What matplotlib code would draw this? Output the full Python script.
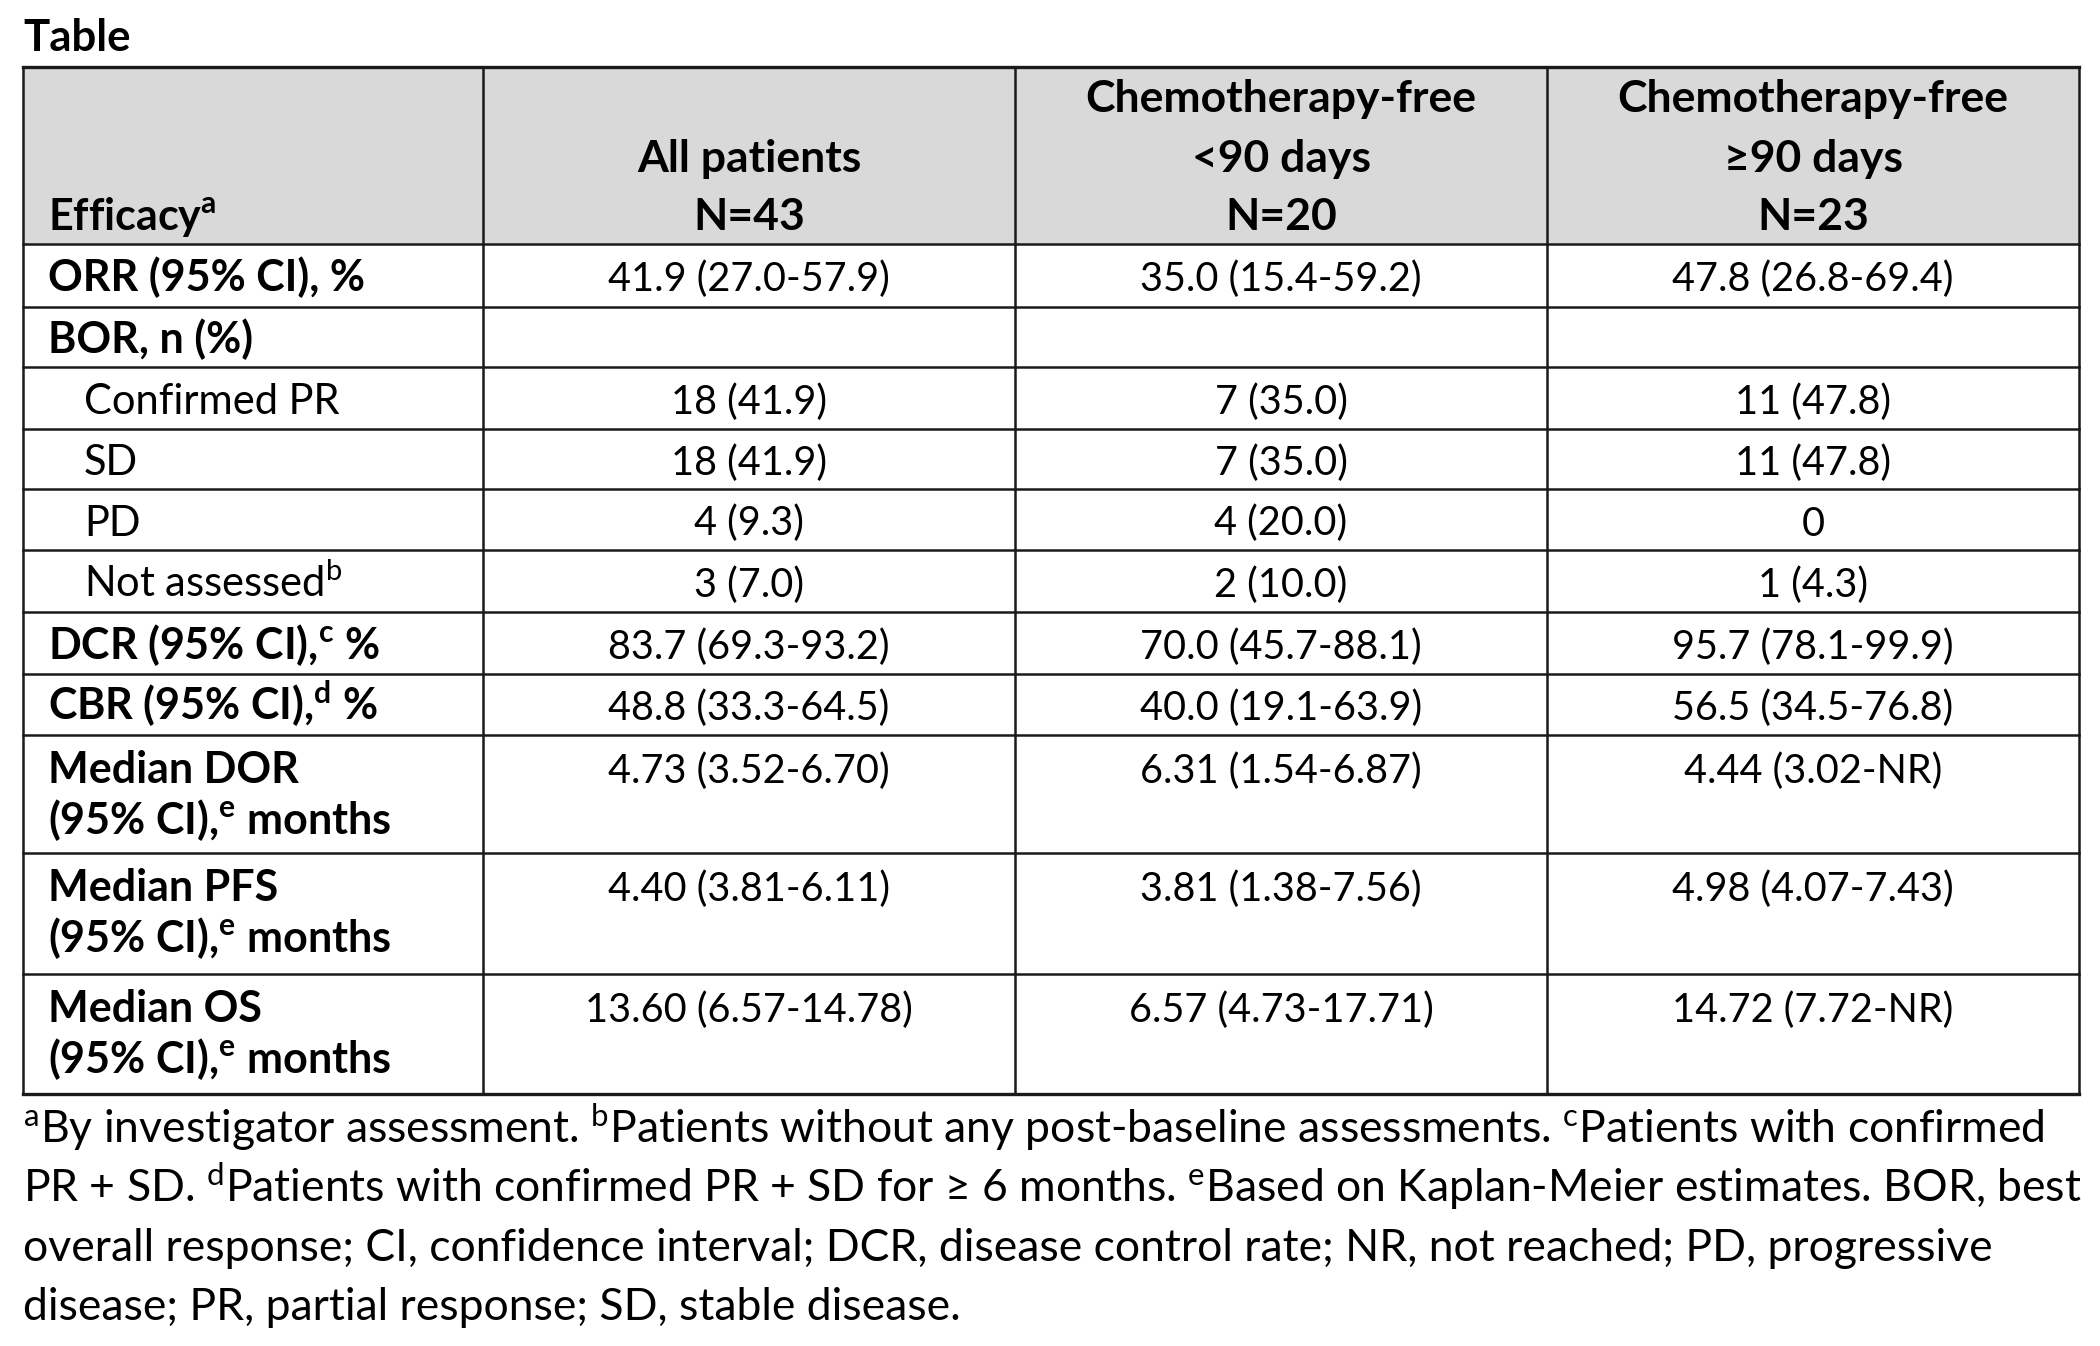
import matplotlib
matplotlib.use("Agg")
import matplotlib.pyplot as plt

plt.rcParams["font.family"] = ["Lato", "DejaVu Sans"]
plt.rcParams["mathtext.fontset"] = "custom"
plt.rcParams["mathtext.rm"] = "Lato"
plt.rcParams["mathtext.bf"] = "Lato:bold"
plt.rcParams["mathtext.default"] = "regular"

# table content
col_headers = [
    ["Efficacy$^{\\mathbf{a}}$"],
    ["All patients", "N=43"],
    ["Chemotherapy-free", "<90 days", "N=20"],
    ["Chemotherapy-free", "\u226590 days", "N=23"],
]
row_labels = [
    ["ORR (95% CI), %"],
    ["BOR, n (%)"],
    ["Confirmed PR"],
    ["SD"],
    ["PD"],
    ["Not assessed$^{\\mathrm{b}}$"],
    ["DCR (95% CI),$^{\\mathbf{c}}$ %"],
    ["CBR (95% CI),$^{\\mathbf{d}}$ %"],
    ["Median DOR", "(95% CI),$^{\\mathbf{e}}$ months"],
    ["Median PFS", "(95% CI),$^{\\mathbf{e}}$ months"],
    ["Median OS", "(95% CI),$^{\\mathbf{e}}$ months"],
]
label_bold = [True, True, False, False, False, False, True, True, True, True, True]
label_indent = [False, False, True, True, True, True, False, False, False, False, False]

all_patients = ["41.9 (27.0-57.9)", "", "18 (41.9)", "18 (41.9)", "4 (9.3)", "3 (7.0)",
                "83.7 (69.3-93.2)", "48.8 (33.3-64.5)", "4.73 (3.52-6.70)",
                "4.40 (3.81-6.11)", "13.60 (6.57-14.78)"]
chemo_free_lt90 = ["35.0 (15.4-59.2)", "", "7 (35.0)", "7 (35.0)", "4 (20.0)", "2 (10.0)",
                   "70.0 (45.7-88.1)", "40.0 (19.1-63.9)", "6.31 (1.54-6.87)",
                   "3.81 (1.38-7.56)", "6.57 (4.73-17.71)"]
chemo_free_ge90 = ["47.8 (26.8-69.4)", "", "11 (47.8)", "11 (47.8)", "0", "1 (4.3)",
                   "95.7 (78.1-99.9)", "56.5 (34.5-76.8)", "4.44 (3.02-NR)",
                   "4.98 (4.07-7.43)", "14.72 (7.72-NR)"]

footnote_lines = [
    "${}^{a}$By investigator assessment. ${}^{b}$Patients without any post-baseline assessments. ${}^{c}$Patients with confirmed",
    "PR + SD. ${}^{d}$Patients with confirmed PR + SD for \u2265 6 months. ${}^{e}$Based on Kaplan-Meier estimates. BOR, best",
    "overall response; CI, confidence interval; DCR, disease control rate; NR, not reached; PD, progressive",
    "disease; PR, partial response; SD, stable disease.",
]

# layout in pixels
W, H = 2100, 1346
col_x = [23, 483, 1015, 1547, 2079]
row_y = [67, 244, 307, 367, 429, 489, 550, 612, 674, 735, 853, 974, 1094]
fs_head = 32
fs_bold = 31
fs_val = 28.5
fs_label = 30
fs_note = 32
line_gap = 51

fig = plt.figure(figsize=(W / 100, H / 100), dpi=100)
ax = fig.add_axes([0, 0, 1, 1])
ax.set_xlim(0, W)
ax.set_ylim(H, 0)
ax.axis("off")

ax.text(col_x[0], 51, "Table", fontsize=31.5, fontweight="bold", va="baseline", ha="left")

# header fill
ax.fill_between([col_x[0], col_x[-1]], row_y[0], row_y[1], color="#d9d9d9", lw=0, zorder=0)

# header text, bottom aligned
header_base = [112, 172, 230]
for i, lines in enumerate(col_headers):
    offs = 3 - len(lines)
    for j, t in enumerate(lines):
        if i == 0:
            ax.text(48, header_base[j + offs], t, fontsize=fs_bold, fontweight="bold",
                    ha="left", va="baseline")
        else:
            ax.text((col_x[i] + col_x[i + 1]) / 2, header_base[j + offs], t, fontsize=fs_head,
                    fontweight="bold", ha="center", va="baseline")

# body
values = [all_patients, chemo_free_lt90, chemo_free_ge90]
for r, lines in enumerate(row_labels):
    top = row_y[r + 1]
    base = top + 48 if row_y[r + 2] - top > 70 else (top + row_y[r + 2]) / 2 + 16
    x0 = 84 if label_indent[r] else 48
    for j, t in enumerate(lines):
        ax.text(x0, base + j * line_gap, t,
                fontsize=fs_bold if label_bold[r] else fs_label,
                fontweight="bold" if label_bold[r] else "normal", ha="left", va="baseline")
    for c, vals in enumerate(values):
        if vals[r]:
            ax.text((col_x[c + 1] + col_x[c + 2]) / 2, base, vals[r], fontsize=fs_val,
                    ha="center", va="baseline")

# grid lines
for i, y in enumerate(row_y):
    lw = 2.4 if i in (0, len(row_y) - 1) else 1.8
    ax.plot([col_x[0], col_x[-1]], [y, y], color="#1a1a1a", lw=lw, solid_capstyle="projecting")
for x in col_x:
    ax.plot([x, x], [row_y[0], row_y[-1]], color="#1a1a1a", lw=1.8, solid_capstyle="projecting")

# footnotes
for k, t in enumerate(footnote_lines):
    ax.text(23, 1143 + k * 59, t, fontsize=fs_note, ha="left", va="baseline")

fig.savefig("out.png", dpi=100, facecolor="white")
